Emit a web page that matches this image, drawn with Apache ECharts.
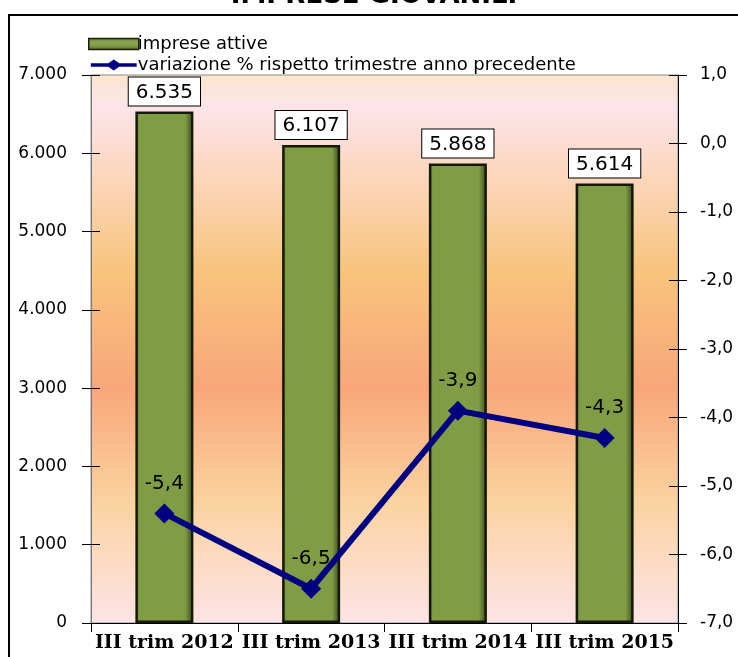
<!DOCTYPE html>
<html>
<head>
<meta charset="utf-8">
<script src="https://cdn.jsdelivr.net/npm/echarts@6/dist/echarts.min.js"></script>
<style>
  html, body { margin: 0; padding: 0; background: #ffffff; }
  #chart { width: 738px; height: 657px; }
</style>
</head>
<body>
<div id="chart"></div>
<script>
// Chart data
var categories = ['III trim 2012', 'III trim 2013', 'III trim 2014', 'III trim 2015'];
var impreseAttive = [6535, 6107, 5868, 5614];
var variazione = [-5.4, -6.5, -3.9, -4.3];
var titleText = 'IMPRESE GIOVANILI';
var barName = 'imprese attive';
var lineName = 'variazione % rispetto trimestre anno precedente';

var FONT = 'DejaVu Sans, Verdana, sans-serif';

function fmtThousands(v) {
  return String(v).replace(/\B(?=(\d{3})+(?!\d))/g, '.');
}
function fmtDecimal(v) {
  return v.toFixed(1).replace('.', ',');
}

var chart = echarts.init(document.getElementById('chart'));

var barGradient = new echarts.graphic.LinearGradient(0, 0, 1, 0, [
  { offset: 0, color: '#627d30' },
  { offset: 0.07, color: '#809c45' },
  { offset: 0.86, color: '#809c45' },
  { offset: 0.93, color: '#5c7030' },
  { offset: 1, color: '#3c4a1e' }
]);

var legendBarGradient = new echarts.graphic.LinearGradient(0, 0, 0, 1, [
  { offset: 0, color: '#5f7a2e' },
  { offset: 0.35, color: '#8aa852' },
  { offset: 0.65, color: '#809c45' },
  { offset: 1, color: '#4e6224' }
]);

var bgGradient = new echarts.graphic.LinearGradient(0, 0, 0, 1, [
  { offset: 0, color: '#fbe6cc' },
  { offset: 0.06, color: '#fde4ea' },
  { offset: 0.36, color: '#f8c47c' },
  { offset: 0.57, color: '#f8a67a' },
  { offset: 0.78, color: '#fbd3a0' },
  { offset: 1, color: '#fde4e6' }
]);

var option = {
  animation: false,
  backgroundColor: '#ffffff',
  textStyle: { fontFamily: FONT },
  grid: {
    left: 91, right: 60, top: 75, bottom: 34,
    show: true,
    backgroundColor: bgGradient,
    borderColor: '#8a8a8a',
    borderWidth: 1
  },
  legend: {
    left: 83, top: 30,
    orient: 'vertical',
    itemGap: 3,
    itemWidth: 50, itemHeight: 11,
    textStyle: { fontFamily: FONT, fontSize: 18, color: '#000', padding: [0, 0, 0, -6] },
    data: [
      { name: barName, icon: 'rect', itemStyle: { color: legendBarGradient, borderColor: '#1a1f0a', borderWidth: 1.5 } },
      { name: lineName, icon: 'path://M0,4 L19,4 L25,0 L31,4 L50,4 L50,8 L31,8 L25,12 L19,8 L0,8 Z', itemStyle: { color: '#000080' } }
    ]
  },
  graphic: [
    {
      type: 'rect', silent: true,
      shape: { x: 9, y: 15, width: 740, height: 660 },
      style: { fill: 'none', stroke: '#000', lineWidth: 2 }
    },
    {
      type: 'text', silent: true,
      x: 374, y: 9,
      style: {
        text: titleText, fontFamily: FONT, fontWeight: 'bold', fontSize: 26,
        fill: '#000', align: 'center', verticalAlign: 'bottom'
      }
    }
  ],
  xAxis: {
    type: 'category',
    data: categories,
    axisLine: { lineStyle: { color: '#000', width: 1 } },
    axisTick: { show: true, length: 9, lineStyle: { color: '#000' } },
    axisLabel: {
      fontFamily: 'DejaVu Serif, serif', fontWeight: 'bold', fontSize: 19,
      color: '#000', margin: 11, interval: 0
    },
    splitLine: { show: false }
  },
  yAxis: [
    {
      type: 'value', min: 0, max: 7000, interval: 1000, position: 'left',
      axisLine: { show: true, lineStyle: { color: '#777' } },
      axisTick: { show: true, length: 9, lineStyle: { color: '#000' } },
      axisLabel: { formatter: fmtThousands, fontSize: 17, color: '#000', margin: 24 },
      splitLine: { show: false }
    },
    {
      type: 'value', min: -7, max: 1, interval: 1, position: 'right',
      axisLine: { show: true, lineStyle: { color: '#000' } },
      axisTick: { show: true, length: 9, lineStyle: { color: '#000' } },
      axisLabel: { formatter: fmtDecimal, fontSize: 17, color: '#000', margin: 22 },
      splitLine: { show: false }
    },
    {
      type: 'value', min: 0, max: 7000, interval: 1000, position: 'left',
      axisLine: { show: false },
      axisTick: { show: true, inside: true, length: 9, lineStyle: { color: '#000' } },
      axisLabel: { show: false },
      splitLine: { show: false }
    },
    {
      type: 'value', min: -7, max: 1, interval: 1, position: 'right',
      axisLine: { show: false },
      axisTick: { show: true, inside: true, length: 9, lineStyle: { color: '#000' } },
      axisLabel: { show: false },
      splitLine: { show: false }
    }
  ],
  series: [
    {
      name: barName,
      type: 'bar',
      yAxisIndex: 0,
      data: impreseAttive,
      barWidth: 58,
      itemStyle: { color: barGradient, borderColor: '#141808', borderWidth: 2.5 },
      label: {
        show: true, position: 'top', distance: 6,
        formatter: function (p) { return fmtThousands(p.value); },
        fontFamily: FONT, fontSize: 20, color: '#000',
        backgroundColor: '#ffffff', borderColor: '#000', borderWidth: 1,
        padding: [5, 7, 3, 7]
      },
      z: 2
    },
    {
      name: lineName,
      type: 'line',
      yAxisIndex: 1,
      data: variazione,
      symbol: 'diamond',
      symbolSize: 20,
      lineStyle: { color: '#000080', width: 6 },
      itemStyle: { color: '#000080' },
      label: {
        show: true, position: 'top', distance: 10,
        formatter: function (p) { return fmtDecimal(p.value); },
        fontFamily: FONT, fontSize: 20, color: '#000'
      },
      z: 5
    }
  ]
};

chart.setOption(option);
</script>
</body>
</html>
